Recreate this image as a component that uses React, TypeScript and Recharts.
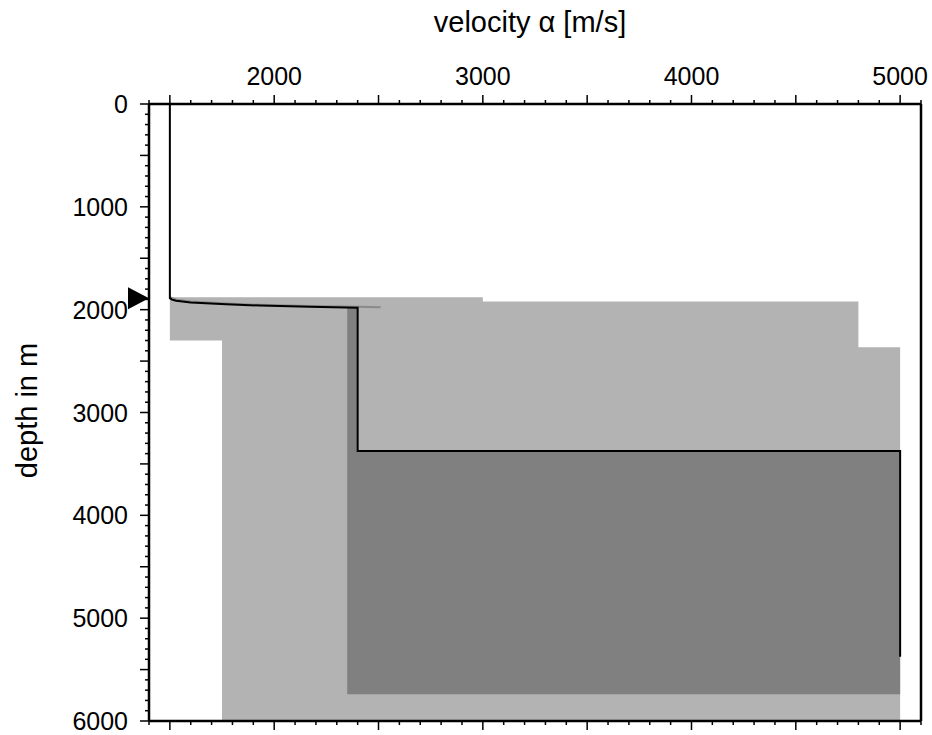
import { Area, ComposedChart, Label, Line, XAxis, YAxis } from 'recharts'

// velocity tick positions (m/s) and depth tick positions (m)
const range = (a: number, b: number, step: number) => {
    const out: number[] = []
    for (let v = a; v <= b; v += step) out.push(v)
    return out
}
const velTicks = range(1400, 5100, 100)
const depthTicks = range(0, 6000, 100)

// light grey: prior search range
const priorDepth = [1880, 1920, 1920, 2300, 2300, 2365, 2365, 6000]
const priorMin = [1500, 1500, 1500, 1500, 1750, 1750, 1750, 1750]
const priorMax = [3000, 3000, 4800, 4800, 4800, 4800, 5000, 5000]

// dark grey: accepted models
const acceptDepth = [1981, 3374, 3374, 5740]
const acceptMin = [2350, 2350, 2350, 2350]
const acceptMax = [2400, 2400, 5000, 5000]

// black: best model
const bestDepth = [0, 1888, 1902, 1914, 1930, 1948, 1960, 1971, 1981, 3374, 3374, 5375]
const bestVel = [1500, 1500, 1510, 1530, 1600, 1770, 1930, 2170, 2400, 2400, 5000, 5000]

// grey curve: sediment gradient
const gradDepth = [1878, 1903, 1920, 1940, 1953, 1964, 1972, 1977]
const gradVel = [1500, 1530, 1600, 1770, 1930, 2170, 2400, 2510]

// seafloor marker
const seafloorDepth = 1890
const seafloorVel = 1400

const prior = priorDepth.map((depth, i) => ({ depth, range: [priorMin[i], priorMax[i]] }))
const accepted = acceptDepth.map((depth, i) => ({ depth, range: [acceptMin[i], acceptMax[i]] }))
const best = bestDepth.map((depth, i) => ({ depth, v: bestVel[i] }))
const grad = gradDepth.map((depth, i) => ({ depth, v: gradVel[i] }))
const marker = [{ depth: seafloorDepth, v: seafloorVel }]

const tickLen = (v: number) => (v % 500 === 0 ? 9 : 4)

const TopTick = ({ x, y, payload }: any) => {
    const v = payload.value
    return (
        <g>
            <line x1={x} x2={x} y1={y} y2={y - tickLen(v)} stroke="#000" strokeWidth={1.5} />
            {v % 1000 === 0 && (
                <text x={x} y={y - 19} textAnchor="middle" fontSize={25} fill="#000">
                    {v}
                </text>
            )}
        </g>
    )
}

const BottomTick = ({ x, y, payload }: any) => (
    <line x1={x} x2={x} y1={y} y2={y + tickLen(payload.value)} stroke="#000" strokeWidth={1.5} />
)

const LeftTick = ({ x, y, payload }: any) => {
    const v = payload.value
    return (
        <g>
            <line x1={x} x2={x - tickLen(v)} y1={y} y2={y} stroke="#000" strokeWidth={1.5} />
            {v % 1000 === 0 && (
                <text x={x - 21} y={y + 9} textAnchor="end" fontSize={25} fill="#000">
                    {v}
                </text>
            )}
        </g>
    )
}

const RightTick = ({ x, y, payload }: any) => (
    <line x1={x} x2={x + tickLen(payload.value)} y1={y} y2={y} stroke="#000" strokeWidth={1.5} />
)

const Triangle = ({ cx, cy }: any) => (
    <polygon points={`${cx - 21},${cy - 11} ${cx - 21},${cy + 11} ${cx},${cy}`} fill="#000" />
)

const DepthLabel = ({ viewBox }: any) => {
    const cx = viewBox.x + viewBox.width - 112
    const cy = viewBox.y + viewBox.height / 2 - 2
    return (
        <text
            x={cx}
            y={cy}
            transform={`rotate(-90, ${cx}, ${cy})`}
            textAnchor="middle"
            fontSize={29}
            fill="#000"
        >
            depth in m
        </text>
    )
}

export default function App() {
    return (
        <div
            style={{
                position: 'absolute',
                left: 0,
                top: 0,
                fontFamily: '"Liberation Sans", Arial, sans-serif',
            }}
        >
            <ComposedChart
                width={932}
                height={735}
                layout="vertical"
                margin={{ top: 103, left: 148, right: 10, bottom: 13 }}
            >
                <XAxis
                    xAxisId="b"
                    type="number"
                    orientation="bottom"
                    domain={[1400, 5100]}
                    allowDataOverflow
                    ticks={velTicks}
                    interval={0}
                    height={1}
                    tickSize={0}
                    tickMargin={0}
                    tickLine={false}
                    tick={<BottomTick />}
                    axisLine={{ stroke: '#000', strokeWidth: 2.5 }}
                />
                <YAxis
                    yAxisId="r"
                    type="number"
                    orientation="right"
                    domain={[0, 6000]}
                    allowDataOverflow
                    ticks={depthTicks}
                    interval={0}
                    width={1}
                    tickSize={0}
                    tickMargin={0}
                    tickLine={false}
                    tick={<RightTick />}
                    axisLine={{ stroke: '#000', strokeWidth: 2.5 }}
                />
                <XAxis
                    type="number"
                    orientation="top"
                    domain={[1400, 5100]}
                    ticks={velTicks}
                    interval={0}
                    height={1}
                    tickSize={0}
                    tickMargin={0}
                    tickLine={false}
                    tick={<TopTick />}
                    axisLine={{ stroke: '#000', strokeWidth: 2.5 }}
                >
                    <Label
                        value="velocity α [m/s]"
                        position="top"
                        offset={71}
                        dx={-5}
                        fontSize={29}
                        fill="#000"
                    />
                </XAxis>
                <YAxis
                    type="number"
                    dataKey="depth"
                    orientation="left"
                    domain={[0, 6000]}
                    ticks={depthTicks}
                    interval={0}
                    width={1}
                    tickSize={0}
                    tickMargin={0}
                    tickLine={false}
                    tick={<LeftTick />}
                    axisLine={{ stroke: '#000', strokeWidth: 2.5 }}
                >
                    <Label content={<DepthLabel />} />
                </YAxis>
                <Area
                    data={prior}
                    dataKey="range"
                    type="linear"
                    fill="#b3b3b3"
                    fillOpacity={1}
                    stroke="none"
                    isAnimationActive={false}
                />
                <Area
                    data={accepted}
                    dataKey="range"
                    type="linear"
                    fill="#808080"
                    fillOpacity={1}
                    stroke="none"
                    isAnimationActive={false}
                />
                <Line
                    data={grad}
                    dataKey="v"
                    type="linear"
                    stroke="#8a8a8a"
                    strokeWidth={2}
                    dot={false}
                    isAnimationActive={false}
                />
                <Line
                    data={best}
                    dataKey="v"
                    type="linear"
                    stroke="#000"
                    strokeWidth={2}
                    dot={false}
                    isAnimationActive={false}
                />
                <Line
                    data={marker}
                    dataKey="v"
                    stroke="none"
                    dot={<Triangle />}
                    isAnimationActive={false}
                />
            </ComposedChart>
        </div>
    )
}
